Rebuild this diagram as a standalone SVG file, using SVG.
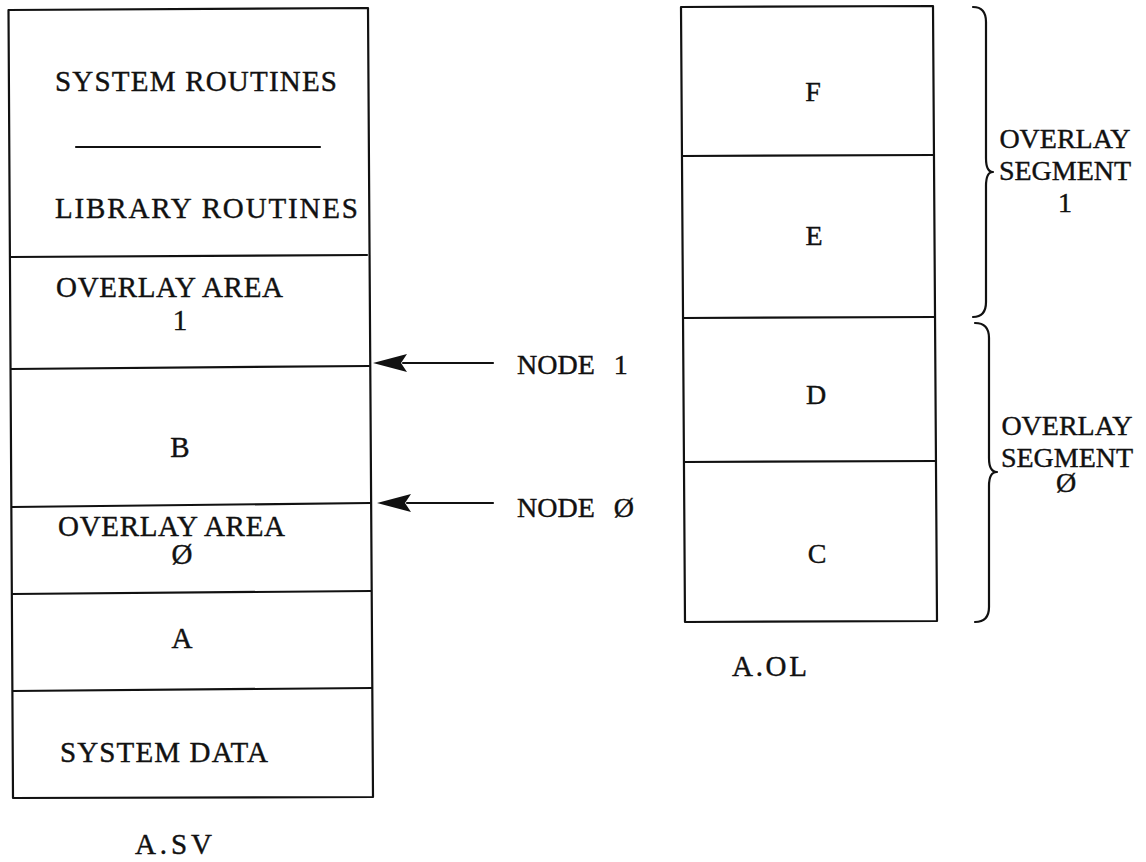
<svg xmlns="http://www.w3.org/2000/svg" width="1146" height="862" viewBox="0 0 1146 862">
<style>
.ln{fill:none;stroke:#111;stroke-width:2.2;stroke-linecap:round;stroke-linejoin:round}
.tw{font-family:"Liberation Serif","Times New Roman",serif;font-size:29px;fill:#111;stroke:#111;stroke-width:0.4}
.tc{font-family:"Liberation Serif","Times New Roman",serif;font-size:29px;fill:#111;stroke:#111;stroke-width:0.4;text-anchor:middle}
.sf{font-family:"Liberation Serif","Times New Roman",serif;font-size:28px;fill:#111;stroke:#111;stroke-width:0.4;text-anchor:middle}
.nd{font-family:"Liberation Serif","Times New Roman",serif;font-size:28px;fill:#111;stroke:#111;stroke-width:0.4;word-spacing:12px}
.ah{fill:#111;stroke:none}
</style>
<rect width="1146" height="862" fill="#fff"/>
<g id="sv">
  <g id="sv-frame"><path class="ln" d="M8.5,10 L368,8 L373,797 L13,798 Z"/></g>
  <g id="sv-routines">
    <text class="tw" x="55" y="91" textLength="282" lengthAdjust="spacing">SYSTEM ROUTINES</text>
    <line class="ln" x1="76" y1="147" x2="320" y2="147"/>
    <text class="tw" x="55" y="218" textLength="303" lengthAdjust="spacing">LIBRARY ROUTINES</text>
    <line class="ln" x1="10" y1="257" x2="367" y2="255"/>
  </g>
  <g id="sv-area1">
    <text class="tw" x="56" y="297" textLength="227" lengthAdjust="spacing">OVERLAY AREA</text>
    <text class="tc" x="180" y="330">1</text>
    <line class="ln" x1="11" y1="369" x2="369" y2="366"/>
  </g>
  <g id="sv-b">
    <text class="tc" x="180" y="457">B</text>
    <line class="ln" x1="12" y1="507" x2="370" y2="503"/>
  </g>
  <g id="sv-area0">
    <text class="tw" x="58" y="536" textLength="227" lengthAdjust="spacing">OVERLAY AREA</text>
    <text class="tc" x="182" y="564">Ø</text>
    <line class="ln" x1="12" y1="594" x2="371" y2="591"/>
  </g>
  <g id="sv-a">
    <text class="tc" x="182" y="648">A</text>
    <line class="ln" x1="13" y1="691" x2="372" y2="688"/>
  </g>
  <g id="sv-data"><text class="tw" x="60" y="762" textLength="208" lengthAdjust="spacing">SYSTEM DATA</text></g>
  <text class="tw" x="135" y="854" textLength="77" lengthAdjust="spacing">A.SV</text>
</g>
<g id="ol">
  <g id="ol-frame"><path class="ln" d="M681,7 L933,6 L937,621 L685,622 Z"/></g>
  <g id="ol-f"><text class="sf" x="813" y="101">F</text>
    <line class="ln" x1="682" y1="156" x2="934" y2="155"/></g>
  <g id="ol-e"><text class="sf" x="814" y="245">E</text>
    <line class="ln" x1="683" y1="318" x2="935" y2="317"/></g>
  <g id="ol-d"><text class="sf" x="816" y="404">D</text>
    <line class="ln" x1="684" y1="462" x2="936" y2="461"/></g>
  <g id="ol-c"><text class="sf" x="817" y="563">C</text></g>
  <text class="tw" x="732" y="676" textLength="75" lengthAdjust="spacing">A.OL</text>
</g>
<g id="seg1">
  <path class="ln" d="M973,7 Q986,7 986,22 L986,158 Q986,172 993,172 Q986,172 986,186 L986,302 Q986,317 973,317"/>
  <text class="sf" x="1065" y="148">OVERLAY</text>
  <text class="sf" x="1065" y="180">SEGMENT</text>
  <text class="sf" x="1065" y="212">1</text>
</g>
<g id="seg0">
  <path class="ln" d="M975,323 Q989,323 989,338 L989,458 Q989,472 997,472 Q989,472 989,486 L989,607 Q989,622 975,622"/>
  <text class="sf" x="1067" y="435">OVERLAY</text>
  <text class="sf" x="1067" y="467">SEGMENT</text>
  <text class="sf" x="1066" y="492">Ø</text>
</g>
<g id="node1"><text class="nd" x="517" y="374">NODE 1</text></g>
<g id="node0"><text class="nd" x="517" y="517">NODE Ø</text></g>
<g id="connectors">
  <line class="ln" x1="403" y1="363" x2="493" y2="363"/>
  <polygon class="ah" points="373,363 407,354 401,363 407,372"/>
  <line class="ln" x1="407" y1="503" x2="493" y2="503"/>
  <polygon class="ah" points="377,503 411,494 405,503 411,512"/>
</g>
</svg>
